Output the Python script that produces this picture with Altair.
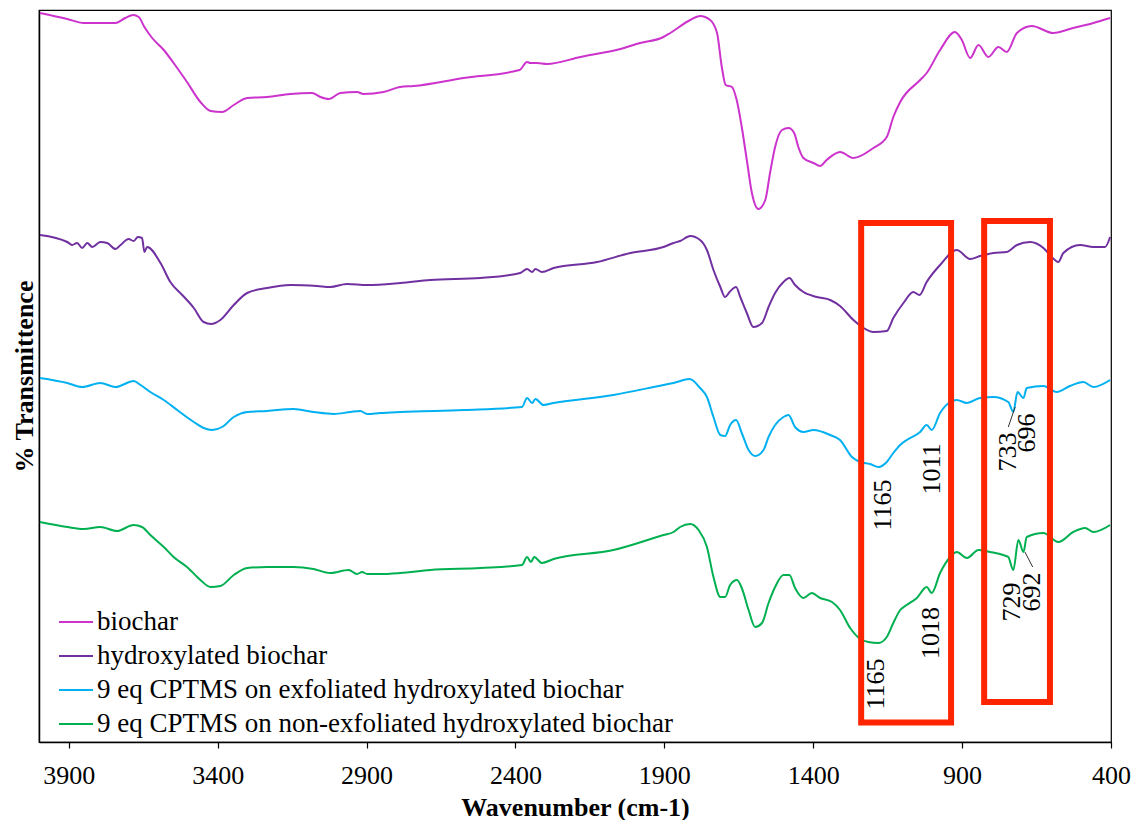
import altair as alt
import pandas as pd

FONT = "Liberation Serif"

SERIES = [
    "biochar",
    "hydroxylated biochar",
    "9 eq CPTMS on exfoliated hydroxylated biochar",
    "9 eq CPTMS on non-exfoliated hydroxylated biochar",
]
COLORS = ["#CC33CC", "#7030A0", "#00B0F0", "#00B050"]

X_TICKS = [3900, 3400, 2900, 2400, 1900, 1400, 900, 400]

# (wavenumber cm-1, transmittance in arbitrary offset units)
biochar = [
    (3997, 729), (3905, 723), (3850, 719), (3816, 719), (3743, 719), (3710, 724),
    (3684, 727), (3665, 725), (3646, 715), (3620, 704), (3581, 692), (3548, 679),
    (3503, 660), (3458, 640), (3424, 631), (3385, 630), (3346, 637), (3301, 644),
    (3234, 645), (3156, 648), (3083, 649), (3055, 645), (3027, 643), (2988, 649),
    (2932, 650), (2910, 648), (2843, 650), (2787, 655), (2742, 656), (2574, 664),
    (2386, 672), (2361, 680), (2350, 679), (2328, 679), (2294, 678), (2182, 685),
    (2048, 693), (1981, 699), (1903, 705), (1880, 709), (1813, 722), (1780, 726),
    (1746, 722), (1723, 709), (1707, 675), (1694, 657), (1673, 655), (1657, 642),
    (1640, 615), (1623, 582), (1606, 549), (1584, 533), (1561, 542), (1545, 569),
    (1528, 595), (1505, 612), (1483, 614), (1464, 609), (1450, 595), (1433, 584),
    (1399, 579), (1377, 576), (1355, 582), (1310, 590), (1265, 584), (1198, 594),
    (1153, 605), (1131, 625), (1108, 640), (1041, 662), (1019, 669), (974, 692),
    (924, 710), (901, 702), (873, 684), (845, 697), (812, 685), (778, 695),
    (750, 690), (716, 709), (666, 716), (594, 709), (527, 714), (459, 719),
    (403, 724),
]

hydroxylated = [
    (3997, 507), (3905, 500), (3889, 497), (3872, 499), (3855, 494), (3838, 499),
    (3821, 495), (3794, 500), (3771, 499), (3743, 493), (3726, 497), (3699, 503),
    (3682, 501), (3668, 505), (3654, 504), (3646, 490), (3637, 495), (3592, 479),
    (3559, 460), (3519, 447), (3480, 434), (3447, 420), (3422, 418), (3391, 422),
    (3346, 437), (3301, 449), (3234, 454), (3156, 457), (3066, 456), (3022, 455),
    (2966, 458), (2898, 457), (2787, 459), (2686, 462), (2518, 464), (2384, 469),
    (2361, 473), (2344, 470), (2333, 473), (2311, 470), (2272, 474), (2126, 480),
    (2014, 489), (1903, 495), (1869, 499), (1847, 501), (1813, 506), (1780, 502),
    (1757, 492), (1735, 472), (1712, 455), (1696, 445), (1681, 450), (1659, 455),
    (1645, 445), (1623, 429), (1601, 415), (1572, 419), (1550, 435), (1528, 449),
    (1500, 460), (1480, 464), (1461, 457), (1433, 450), (1388, 445), (1343, 442),
    (1310, 436), (1265, 422), (1231, 414), (1198, 410), (1153, 411), (1131, 424),
    (1097, 439), (1064, 450), (1043, 447), (1019, 460), (974, 477), (918, 492),
    (873, 483), (840, 486), (795, 489), (750, 490), (716, 497), (672, 500),
    (627, 494), (599, 485), (577, 480), (560, 489), (504, 497), (459, 495),
    (420, 495), (403, 505),
]

exfoliated = [
    (3997, 364), (3905, 359), (3855, 355), (3794, 359), (3743, 355), (3682, 361),
    (3659, 357), (3626, 350), (3581, 342), (3536, 332), (3480, 320), (3447, 314),
    (3419, 312), (3385, 315), (3346, 325), (3301, 330), (3234, 331), (3145, 333),
    (3078, 330), (3010, 328), (2954, 330), (2921, 331), (2898, 328), (2854, 329),
    (2787, 330), (2574, 332), (2378, 335), (2361, 344), (2344, 339), (2333, 343),
    (2306, 337), (2272, 339), (2071, 347), (1903, 357), (1869, 359), (1815, 363),
    (1780, 354), (1757, 345), (1735, 325), (1712, 307), (1696, 306), (1679, 317),
    (1659, 322), (1640, 309), (1617, 292), (1595, 286), (1567, 292), (1550, 305),
    (1528, 317), (1500, 325), (1483, 327), (1461, 315), (1433, 310), (1399, 312),
    (1343, 307), (1310, 302), (1270, 285), (1242, 280), (1209, 278), (1181, 275),
    (1153, 280), (1131, 289), (1108, 297), (1086, 302), (1041, 310), (1019, 317),
    (1002, 312), (974, 329), (940, 340), (918, 342), (884, 339), (840, 344),
    (795, 345), (745, 340), (728, 330), (714, 350), (694, 344), (683, 354),
    (627, 356), (582, 350), (538, 356), (493, 360), (459, 355), (403, 362),
]

non_exfoliated = [
    (3997, 220), (3905, 215), (3850, 213), (3794, 215), (3738, 211), (3682, 217),
    (3654, 215), (3626, 207), (3581, 195), (3548, 185), (3503, 175), (3458, 162),
    (3424, 155), (3391, 156), (3346, 167), (3301, 174), (3234, 175), (3145, 175),
    (3078, 173), (3022, 169), (2960, 172), (2932, 168), (2915, 170), (2898, 168),
    (2854, 168), (2787, 169), (2686, 172), (2518, 174), (2378, 177), (2361, 185),
    (2348, 180), (2337, 185), (2311, 179), (2272, 183), (2071, 192), (1903, 207),
    (1869, 210), (1847, 215), (1813, 218), (1785, 212), (1757, 195), (1735, 165),
    (1712, 145), (1696, 145), (1679, 157), (1656, 162), (1640, 154), (1617, 132),
    (1595, 115), (1572, 119), (1550, 139), (1528, 155), (1500, 167), (1480, 167),
    (1461, 154), (1433, 144), (1405, 149), (1377, 144), (1337, 140), (1310, 132),
    (1276, 114), (1242, 103), (1215, 100), (1181, 99), (1153, 105), (1131, 119),
    (1108, 132), (1086, 137), (1052, 144), (1019, 155), (1002, 149), (974, 169),
    (940, 185), (918, 190), (884, 184), (845, 192), (806, 190), (762, 187),
    (745, 185), (728, 172), (711, 202), (694, 190), (683, 205), (627, 209),
    (577, 200), (527, 210), (487, 214), (459, 210), (403, 217),
]

# highlighted regions: (high wavenumber, low wavenumber, bottom, top)
boxes = [(1239, 937, 19.5, 519), (826, 605, 40, 521)]

# peak labels: (text, wavenumber position, transmittance position)
peak_labels = [
    ("1165", 1165, 237), ("1011", 1000, 273), ("733", 747, 290), ("696", 683, 309),
    ("1165", 1189, 58), ("1018", 1004, 109), ("729", 732, 140), ("692", 665, 150),
]

# leader lines from peaks to labels: (wn start, T start, wn end, T end)
leaders = [(722, 335, 745, 315), (689, 190, 663, 175)]

rows = []
for name, pts in zip(SERIES, [biochar, hydroxylated, exfoliated, non_exfoliated]):
    for wn, t in pts:
        rows.append({"series": name, "wavenumber": wn, "T": t})
spectra = pd.DataFrame(rows)

box_df = pd.DataFrame(boxes, columns=["wn_hi", "wn_lo", "t_lo", "t_hi"])
label_df = pd.DataFrame(peak_labels, columns=["label", "wavenumber", "T"])
leader_df = pd.DataFrame(leaders, columns=["wn1", "t1", "wn2", "t2"])

x_scale = alt.Scale(domain=[400, 4000], reverse=True, nice=False, zero=False)
y_scale = alt.Scale(domain=[0, 732], nice=False, zero=False)

x_axis = alt.Axis(
    values=X_TICKS,
    format="d",
    title="Wavenumber (cm-1)",
    grid=False,
    domainColor="black",
    domainWidth=1.5,
    tickColor="black",
    tickSize=6,
    tickWidth=1.2,
    labelFont=FONT,
    labelFontSize=26,
    labelColor="black",
    labelPadding=14,
    labelFlush=False,
    labelOverlap=False,
    titleFont=FONT,
    titleFontSize=26,
    titleFontWeight="bold",
    titleColor="black",
    titlePadding=6,
)
y_axis = alt.Axis(
    title="% Transmittence",
    labels=False,
    ticks=False,
    grid=False,
    domainColor="black",
    domainWidth=1.5,
    titleFont=FONT,
    titleFontSize=26,
    titleFontWeight="bold",
    titleColor="black",
    titlePadding=2,
)


def xenc(field):
    return alt.X(field, type="quantitative", scale=x_scale, axis=x_axis, title="Wavenumber (cm-1)")


def yenc(field):
    return alt.Y(field, type="quantitative", scale=y_scale, axis=y_axis, title="% Transmittence")


lines = alt.Chart(spectra).mark_line(strokeWidth=2, interpolate="monotone").encode(
    x=xenc("wavenumber"),
    y=yenc("T"),
    color=alt.Color(
        "series:N",
        scale=alt.Scale(domain=SERIES, range=COLORS),
        legend=alt.Legend(
            title=None,
            orient="none",
            legendX=19,
            legendY=594,
            symbolType="stroke",
            symbolSize=1156,
            symbolStrokeWidth=2,
            labelFont=FONT,
            labelFontSize=27,
            labelColor="black",
            labelLimit=900,
            labelOffset=3,
            rowPadding=3,
            padding=0,
        ),
    ),
    detail="series:N",
)

rects = alt.Chart(box_df).mark_rect(
    fillOpacity=0, stroke="#FF2400", strokeWidth=6
).encode(
    x=xenc("wn_hi"),
    x2="wn_lo:Q",
    y=yenc("t_lo"),
    y2="t_hi:Q",
)

leader_lines = alt.Chart(leader_df).mark_rule(color="#333333", strokeWidth=1).encode(
    x=xenc("wn1"),
    x2="wn2:Q",
    y=yenc("t1"),
    y2="t2:Q",
)

labels = alt.Chart(label_df).mark_text(
    angle=270, font=FONT, fontSize=26, color="black", align="center", baseline="middle"
).encode(
    x=xenc("wavenumber"),
    y=yenc("T"),
    text="label:N",
)

chart = (
    alt.layer(lines, rects, leader_lines, labels)
    .properties(
        width=1072,
        height=732,
        autosize=alt.AutoSizeParams(type="none"),
        padding={"left": 39, "top": 10, "right": 24, "bottom": 78},
        background="white",
    )
    .configure_view(stroke="black", strokeWidth=1.2)
)

chart.save("out.html", embed_options={"renderer": "svg", "actions": False})
